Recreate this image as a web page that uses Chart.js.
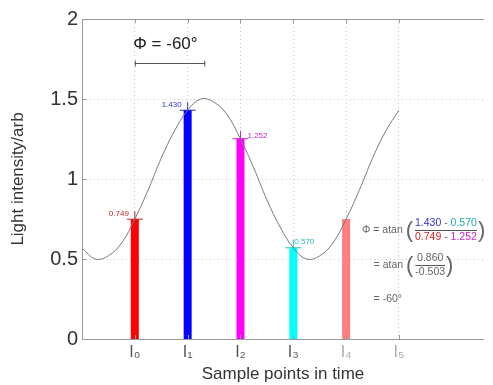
<!DOCTYPE html>
<html>
<head>
<meta charset="utf-8">
<script src="https://cdn.jsdelivr.net/npm/chart.js"></script>
<style>
  html, body { margin: 0; padding: 0; background: #fff; }
  #wrap { width: 493px; height: 385px; }
</style>
</head>
<body>
<div id="wrap"><canvas id="chart" width="493" height="385"></canvas></div>
<script>
// sample points (x position in units of sample spacing)
const sampleX = [0, 1, 2, 3, 4];
const sampleValues = [0.749, 1.430, 1.252, 0.570, 0.750];
const sampleColors = ['#ff0000', '#0000ff', '#ff00ff', '#00ffff', '#ff7f7f'];
const valueLabels = ['0.749', '1.430', '1.252', '0.570', ''];

// x tick labels
const tickX = [0, 1, 2, 3, 4, 5];
const tickLabels = ['I\u2080', 'I\u2081', 'I\u2082', 'I\u2083', 'I\u2084', 'I\u2085'];
const tickColors = ['#555', '#555', '#555', '#555', '#aaa', '#aaa'];

// y tick labels
const yTicks = [0, 0.5, 1, 1.5, 2];
const yTickLabels = ['0', '0.5', '1', '1.5', '2'];

// the grey intensity curve
const curveX = [-1, -0.75, -0.5, -0.25, 0, 0.25, 0.5, 0.75, 1, 1.25, 1.5, 1.75, 2,
                2.25, 2.5, 2.75, 3, 3.25, 3.5, 3.75, 4, 4.25, 4.5, 4.75, 5];
const curveY = [0.57, 0.50, 0.52, 0.60, 0.75, 0.93, 1.13, 1.30, 1.43, 1.50, 1.48, 1.40, 1.25,
                1.07, 0.87, 0.70, 0.57, 0.50, 0.52, 0.60, 0.75, 0.93, 1.13, 1.30, 1.43];

const FONT = "'Liberation Sans', Arial, sans-serif";

const datasets = [];
datasets.push({
    type: 'line',
    data: curveX.map((x, i) => ({ x: x, y: curveY[i] })),
    borderColor: '#7a7a7a',
    borderWidth: 1,
    pointRadius: 0,
    tension: 0.4,
    fill: false
});
sampleX.forEach((x, i) => {
    // each bar is a thick vertical line from 0 to its value
    datasets.push({
        type: 'line',
        data: [{ x: x, y: 0 }, { x: x, y: sampleValues[i] }],
        borderColor: sampleColors[i],
        borderWidth: 8,
        borderCapStyle: 'butt',
        pointRadius: 0
    });
});
// small cross markers at bar tops (first four)
datasets.push({
    type: 'scatter',
    data: sampleX.slice(0, 4).map((x, i) => ({ x: x, y: sampleValues[i] })),
    pointStyle: 'cross',
    pointRadius: 8,
    borderWidth: 1,
    borderColor: ['#cc2222', '#3333cc', '#cc22cc', '#22bbbb'],
    backgroundColor: 'transparent'
});

const annotate = {
    id: 'annotate',
    afterDraw(chart) {
        const ctx = chart.ctx;
        const xs = chart.scales.x, ys = chart.scales.y;
        const a = chart.chartArea;
        ctx.save();

        // axis lines and top border
        ctx.strokeStyle = '#999';
        ctx.lineWidth = 1;
        ctx.beginPath();
        ctx.moveTo(a.left + 0.5, a.top);
        ctx.lineTo(a.left + 0.5, a.bottom + 0.5);
        ctx.lineTo(a.right, a.bottom + 0.5);
        ctx.moveTo(a.left, a.top + 0.5);
        ctx.lineTo(a.right, a.top + 0.5);
        // inward ticks
        tickX.forEach(t => {
            const px = Math.round(xs.getPixelForValue(t)) + 0.5;
            ctx.moveTo(px, a.top); ctx.lineTo(px, a.top + 4);
            ctx.moveTo(px, a.bottom); ctx.lineTo(px, a.bottom - 4);
        });
        yTicks.forEach(t => {
            const py = Math.round(ys.getPixelForValue(t)) + 0.5;
            ctx.moveTo(a.left, py); ctx.lineTo(a.left + 4, py);
        });
        ctx.stroke();

        // value labels by the bars
        ctx.font = '8px ' + FONT;
        ctx.textBaseline = 'middle';
        const labelColors = ['#cc2222', '#3333cc', '#cc22cc', '#22bbbb'];
        const offs = [[-6, -5, 'right'], [-6, -5, 'right'], [7, -3, 'left'], [1, -6, 'left']];
        for (let i = 0; i < 4; i++) {
            const px = xs.getPixelForValue(sampleX[i]);
            const py = ys.getPixelForValue(sampleValues[i]);
            ctx.fillStyle = labelColors[i];
            ctx.textAlign = offs[i][2];
            ctx.fillText(valueLabels[i], px + offs[i][0], py + offs[i][1]);
        }

        // phase annotation
        ctx.fillStyle = '#222';
        ctx.font = '17px ' + FONT;
        ctx.textAlign = 'center';
        ctx.fillText('\u03A6 = -60\u00B0', xs.getPixelForValue(0.58), ys.getPixelForValue(1.84));
        const bx0 = xs.getPixelForValue(0), bx1 = xs.getPixelForValue(1.333);
        const by = Math.round(ys.getPixelForValue(1.725)) + 0.5;
        ctx.strokeStyle = '#555';
        ctx.beginPath();
        ctx.moveTo(bx0, by); ctx.lineTo(bx1, by);
        ctx.moveTo(bx0 + 0.5, by - 3); ctx.lineTo(bx0 + 0.5, by + 3);
        ctx.moveTo(bx1 - 0.5, by - 3); ctx.lineTo(bx1 - 0.5, by + 3);
        ctx.stroke();

        // formula
        const FS = '10.5px ';
        ctx.font = FS + FONT;
        ctx.textAlign = 'left';
        const seg = (parts, x, y) => {
            parts.forEach(p => {
                ctx.fillStyle = p[1];
                ctx.fillText(p[0], x, y);
                x += ctx.measureText(p[0]).width;
            });
            return x;
        };
        const frac = (num, den, x, y) => {
            ctx.font = '22px ' + FONT;
            ctx.fillStyle = '#666';
            ctx.fillText('(', x, y + 1);
            x += ctx.measureText('(').width + 2;
            ctx.font = FS + FONT;
            const wn = num.reduce((s, p) => s + ctx.measureText(p[0]).width, 0);
            const wd = den.reduce((s, p) => s + ctx.measureText(p[0]).width, 0);
            const w = Math.max(wn, wd);
            seg(num, x + (w - wn) / 2, y - 7);
            seg(den, x + (w - wd) / 2, y + 7);
            ctx.strokeStyle = '#555';
            ctx.beginPath();
            ctx.moveTo(x, Math.round(y) + 0.5); ctx.lineTo(x + w, Math.round(y) + 0.5);
            ctx.stroke();
            x += w + 1;
            ctx.font = '22px ' + FONT;
            ctx.fillStyle = '#666';
            ctx.fillText(')', x, y + 1);
            ctx.font = FS + FONT;
        };
        let fx = xs.getPixelForValue(4.3), fy = ys.getPixelForValue(0.68);
        fx = seg([['\u03A6 = atan ', '#666']], fx, fy);
        frac([['1.430', '#3333cc'], [' - ', '#666'], ['0.570', '#22aaaa']],
             [['0.749', '#dd2222'], [' - ', '#666'], ['1.252', '#cc22cc']], fx, fy);
        fx = xs.getPixelForValue(4.52); fy = ys.getPixelForValue(0.46);
        fx = seg([['= atan ', '#666']], fx, fy);
        frac([['0.860', '#666']], [['-0.503', '#666']], fx, fy);
        fx = xs.getPixelForValue(4.52); fy = ys.getPixelForValue(0.25);
        seg([['= -60\u00B0', '#666']], fx, fy);

        ctx.restore();
    }
};

new Chart(document.getElementById('chart').getContext('2d'), {
    data: { datasets: datasets },
    options: {
        responsive: false,
        animation: false,
        layout: { padding: { top: 19, right: 0, left: 0, bottom: 0 } },
        plugins: { legend: { display: false }, tooltip: { enabled: false } },
        scales: {
            x: {
                type: 'linear',
                min: -1,
                max: 6.61,
                afterBuildTicks: s => { s.ticks = tickX.map(v => ({ value: v })); },
                afterFit: s => { s.height = 46; },
                border: { display: false, dash: [1, 3] },
                grid: { color: '#c8c8c8', drawTicks: false },
                ticks: {
                    padding: 4,
                    font: { family: FONT, size: 16 },
                    color: ctx => tickColors[ctx.index],
                    callback: (v, i) => tickLabels[i]
                },
                title: {
                    display: true,
                    text: 'Sample points in time',
                    font: { family: FONT, size: 17 },
                    color: '#333',
                    padding: { top: 0, bottom: 0 }
                }
            },
            y: {
                min: 0,
                max: 2,
                afterBuildTicks: s => { s.ticks = yTicks.map(v => ({ value: v })); },
                afterFit: s => { s.width = 82; },
                border: { display: false, dash: [1, 3] },
                grid: {
                    color: ctx => (ctx.tick && (ctx.tick.value === 0 || ctx.tick.value === 2)) ? 'rgba(0,0,0,0)' : '#c8c8c8',
                    drawTicks: false
                },
                ticks: {
                    padding: 4,
                    font: { family: FONT, size: 20 },
                    color: '#333',
                    callback: (v, i) => yTickLabels[i]
                },
                title: {
                    display: true,
                    text: 'Light intensity/arb',
                    font: { family: FONT, size: 17 },
                    color: '#333',
                    padding: { top: 8, bottom: 4 }
                }
            }
        }
    },
    plugins: [annotate]
});
</script>
</body>
</html>
